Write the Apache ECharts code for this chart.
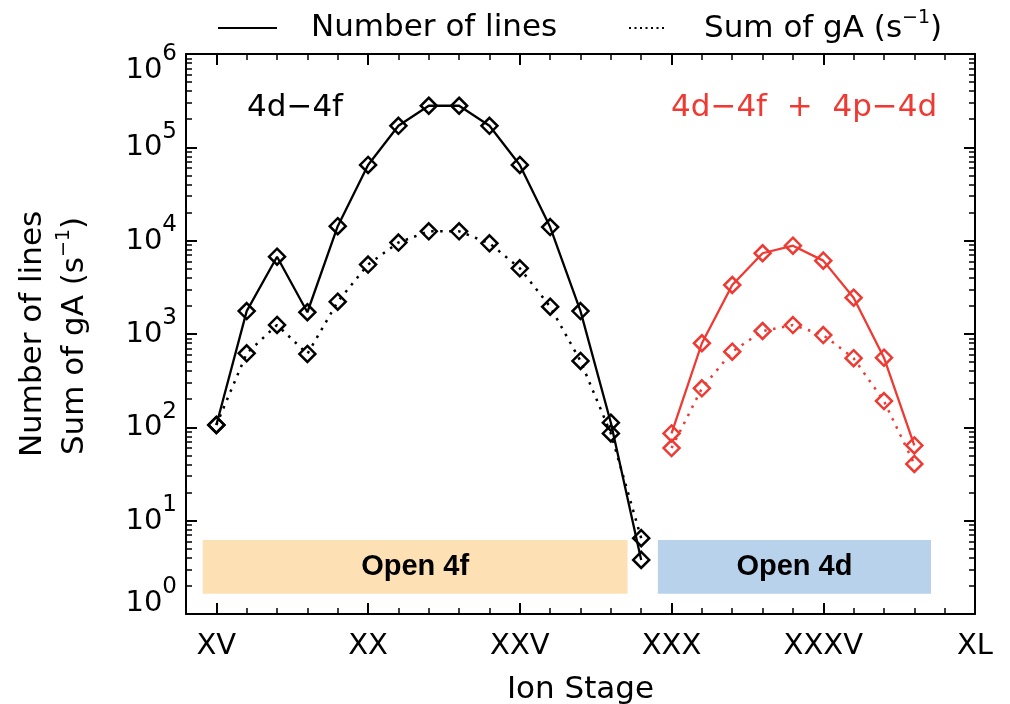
<!DOCTYPE html>
<html>
<head>
<meta charset="utf-8">
<script src="https://cdn.jsdelivr.net/npm/echarts@6/dist/echarts.min.js"></script>
<style>
  html, body { margin: 0; padding: 0; background: #fff; }
  #chart { width: 1010px; height: 704px; }
</style>
</head>
<body>
<div id="chart"></div>
<script>
// Ion stages and line statistics for the 4d-4f transition arrays
const blackIons = [15, 16, 17, 18, 19, 20, 21, 22, 23, 24, 25, 26, 27, 28, 29];
const blackLines = [106, 1760, 6730, 1710, 14300, 64700, 170000, 279000, 279000, 170000, 64700, 14000, 1760, 112, 3.8];
const blackGA = [106, 621, 1250, 611, 2220, 5550, 9550, 12600, 12600, 9380, 5060, 1960, 514, 86, 6.5];

// Ion stages and statistics for the 4d-4f + 4p-4d arrays
const redIons = [30, 31, 32, 33, 34, 35, 36, 37, 38];
const redLines = [86, 796, 3350, 7330, 8830, 6110, 2450, 557, 64];
const redGA = [60, 262, 646, 1077, 1248, 975, 550, 191, 40.5];

// Axis ticks
const majorStages = [15, 20, 25, 30, 35, 40];
const romanLabels = ['XV', 'XX', 'XXV', 'XXX', 'XXXV', 'XL'];
const minorStages = [16, 17, 18, 19, 21, 22, 23, 24, 26, 27, 28, 29, 31, 32, 33, 34, 36, 37, 38, 39];

// Open-shell regions (ion-stage ranges and vertical span)
const open4fRange = [14.55, 28.55];
const open4dRange = [29.55, 38.55];
const bandSpan = [1.65, 6.2];

const FONT = 'DejaVu Sans';
const RED = '#EE3A33';

const pairs = (xs, ys) => xs.map((x, i) => [x, ys[i]]);

// minor log ticks (2..9 in each decade), expressed as exponents
const minorLogTicks = [];
for (let d = 0; d < 6; d++) {
  for (let m = 2; m <= 9; m++) minorLogTicks.push(d + Math.log10(m));
}

const chart = echarts.init(document.getElementById('chart'), null, { renderer: 'canvas' });

const lineAxis = { show: true, lineStyle: { color: '#000', width: 2 } };
const noLine = { show: false };

function xAxisDef(pos, ticks, len, width, withLabels) {
  return {
    type: 'value', min: 14, max: 40, position: pos,
    axisLine: withLabels !== null ? lineAxis : noLine,
    splitLine: { show: false },
    axisTick: { show: true, inside: true, length: len, customValues: ticks,
                lineStyle: { color: '#000', width: width } },
    axisLabel: withLabels ? {
      show: true, customValues: majorStages, margin: 18,
      fontFamily: FONT, fontSize: 29, color: '#000',
      formatter: v => romanLabels[majorStages.indexOf(v)] || ''
    } : { show: false }
  };
}

// decade labels 10^n; the end labels are pulled inward so they stay beside the frame
const baseTok = (pad) => ({ fontFamily: FONT, fontSize: 29, color: '#000', verticalAlign: 'bottom',
  lineHeight: 31, padding: [0, 0, pad, 0] });
const supTok = (pad) => ({ fontFamily: FONT, fontSize: 23, color: '#000', verticalAlign: 'bottom',
  lineHeight: 23, padding: [0, 0, pad, 0] });
const supRich = {
  b: baseTok(0), s: supTok(19),
  bb: baseTok(11), sb: supTok(30),
  gap: { fontSize: 10, lineHeight: 32 }
};

function decadeLabel(v) {
  const n = Math.round(Math.log10(v));
  if (n === 6) return '{gap| }\n{b|10}{s|' + n + '}';
  if (n === 0) return '{bb|10}{sb|' + n + '}';
  return '{b|10}{s|' + n + '}';
}

function yLogAxis(pos, withLabels) {
  return {
    type: 'log', logBase: 10, min: 1, max: 1e6, interval: 1, position: pos,
    axisLine: lineAxis,
    splitLine: { show: false },
    axisTick: { show: true, inside: true, length: 11, lineStyle: { color: '#000', width: 2 } },
    axisLabel: withLabels ? {
      show: true, margin: 9, padding: [0, 0, 1, 0],
      formatter: decadeLabel,
      rich: supRich
    } : { show: false }
  };
}

function yMinorAxis(pos) {
  return {
    type: 'value', min: 0, max: 6, position: pos,
    axisLine: noLine, splitLine: { show: false },
    axisTick: { show: true, inside: true, length: 6, customValues: minorLogTicks,
                lineStyle: { color: '#000', width: 1.5 } },
    axisLabel: { show: false }
  };
}

const markerStyle = (c) => ({ color: 'rgba(255,255,255,0)', borderColor: c, borderWidth: 2.5 });

function series(name, xs, ys, color, dotted, extra) {
  return Object.assign({
    name: name, type: 'line', xAxisIndex: 0, yAxisIndex: 0,
    data: pairs(xs, ys),
    symbol: 'diamond', symbolSize: [16, 16], showAllSymbol: true,
    itemStyle: markerStyle(color),
    lineStyle: dotted ? { color: color, width: 2.5, type: [2.5, 6.5] } : { color: color, width: 2.3 },
    emphasis: { disabled: true }, silent: true, z: 5,
    animation: false
  }, extra || {});
}

const supText = (size, supSize, raise, color) => ({
  a: { fontFamily: FONT, fontSize: size, fill: color, verticalAlign: 'bottom', lineHeight: size + 2 },
  s: { fontFamily: FONT, fontSize: supSize, fill: color, verticalAlign: 'bottom', lineHeight: supSize, padding: [0, 0, raise, 0] }
});

const option = {
  animation: false,
  backgroundColor: '#fff',
  grid: { left: 186, right: 35, top: 54, bottom: 90, containLabel: false, outerBoundsMode: 'none' },
  xAxis: [
    Object.assign(xAxisDef('bottom', majorStages, 11, 2, true), {
      name: 'Ion Stage', nameLocation: 'middle', nameGap: 60,
      nameTextStyle: { fontFamily: FONT, fontSize: 31, color: '#000' }
    }),
    xAxisDef('bottom', minorStages, 6, 1.5, null),
    xAxisDef('top', majorStages, 11, 2, false),
    xAxisDef('top', minorStages, 6, 1.5, null)
  ],
  yAxis: [
    yLogAxis('left', true),
    yMinorAxis('left'),
    yLogAxis('right', false),
    yMinorAxis('right')
  ],
  series: [
    series('Number of lines', blackIons, blackLines, '#000', false, {
      markArea: {
        silent: true,
        z: 1,
        label: { show: true, position: 'inside', fontFamily: 'Liberation Sans', fontWeight: 'bold',
                 fontSize: 29, color: '#000' },
        data: [
          [{ name: 'Open 4f', coord: [open4fRange[0], bandSpan[1]], itemStyle: { color: '#FDE1B5' } },
           { coord: [open4fRange[1], bandSpan[0]] }],
          [{ name: 'Open 4d', coord: [open4dRange[0], bandSpan[1]], itemStyle: { color: '#B8D2EB' } },
           { coord: [open4dRange[1], bandSpan[0]] }]
        ]
      }
    }),
    series('Sum of gA', blackIons, blackGA, '#000', true),
    series('Number of lines (4p-4d)', redIons, redLines, RED, false),
    series('Sum of gA (4p-4d)', redIons, redGA, RED, true)
  ],
  graphic: [
    // legend
    { type: 'line', shape: { x1: 218, y1: 28, x2: 277, y2: 28 }, style: { stroke: '#000', lineWidth: 2 } },
    { type: 'text', x: 311, y: 28, style: { text: 'Number of lines', fontFamily: FONT, fontSize: 31,
      fill: '#000', textAlign: 'left', textVerticalAlign: 'middle' } },
    { type: 'line', shape: { x1: 629, y1: 28, x2: 666, y2: 28 },
      style: { stroke: '#000', lineWidth: 2, lineDash: [2, 3.5] } },
    { type: 'text', x: 704, y: 28, style: {
      text: '{a|Sum of gA (s}{s|−1}{a|)}', textAlign: 'left', textVerticalAlign: 'middle',
      rich: supText(31, 19, 17, '#000') } },
    // y axis title, two lines
    { type: 'text', x: 33, y: 334, rotation: Math.PI / 2, style: {
      text: 'Number of lines', fontFamily: FONT, fontSize: 31, fill: '#000',
      textAlign: 'center', textVerticalAlign: 'middle' } },
    { type: 'text', x: 74, y: 336, rotation: Math.PI / 2, style: {
      text: '{a|Sum of gA (s}{s|−1}{a|)}', textAlign: 'center', textVerticalAlign: 'middle',
      rich: supText(31, 19, 17, '#000') } },
    // transition-array annotations
    { type: 'text', x: 247, y: 108, style: { text: '4d−4f', fontFamily: FONT, fontSize: 31,
      fill: '#000', textAlign: 'left', textVerticalAlign: 'middle' } },
    { type: 'text', x: 671, y: 108, style: { text: '4d−4f  +  4p−4d', fontFamily: FONT, fontSize: 31,
      fill: RED, textAlign: 'left', textVerticalAlign: 'middle' } }
  ]
};

chart.setOption(option);
</script>
</body>
</html>
